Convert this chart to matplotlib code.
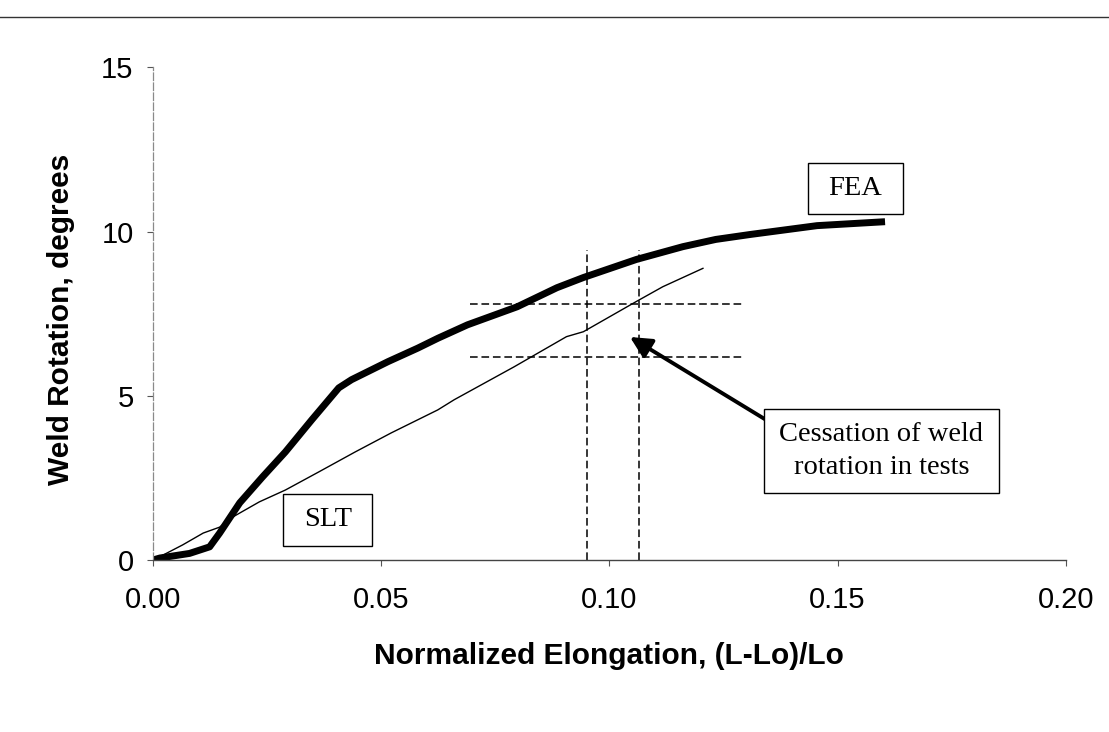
import matplotlib
matplotlib.use("Agg")
import matplotlib.pyplot as plt
from matplotlib.lines import Line2D
from matplotlib.path import Path

# FEA curve (thick)
fea_x = [0.0, 0.0015, 0.008, 0.0124, 0.0146, 0.019, 0.024, 0.029, 0.0348, 0.0407,
         0.0435, 0.0515, 0.058, 0.0624, 0.0689, 0.0798, 0.0885, 0.0943, 0.1059,
         0.1161, 0.1233, 0.1308, 0.1455, 0.1604]
fea_y = [0.0, 0.06, 0.2, 0.4, 0.82, 1.74, 2.53, 3.29, 4.27, 5.24,
         5.49, 6.04, 6.45, 6.75, 7.16, 7.71, 8.29, 8.6, 9.15,
         9.54, 9.76, 9.91, 10.18, 10.3]

# SLT test curve (thin)
slt_x = [0.0, 0.0015, 0.0065, 0.011, 0.0146, 0.0175, 0.019, 0.0233, 0.029, 0.0363,
         0.0443, 0.0522, 0.0624, 0.066, 0.0791, 0.0906, 0.0943, 0.1059, 0.1117, 0.1205]
slt_y = [0.0, 0.1, 0.46, 0.82, 1.0, 1.31, 1.43, 1.77, 2.13, 2.68,
         3.29, 3.87, 4.57, 4.88, 5.88, 6.8, 6.95, 7.87, 8.32, 8.88]

# dashed guide lines marking cessation of weld rotation
vline_x = [0.095, 0.1065]
vline_top = 9.43
hline_y = [6.19, 7.79]
hline_span = [0.0694, 0.1292]

# arrow from the note box to the cessation point
arrow_tip = (0.1045, 6.79)
arrow_tail = (0.1344, 4.26)

x_ticks = [0.00, 0.05, 0.10, 0.15, 0.20]
y_ticks = [0, 5, 10, 15]


def rect_box(padx, pady):
    # square box with separate horizontal / vertical padding
    def style(x0, y0, width, height, mutation_size):
        px = padx * mutation_size
        py = pady * mutation_size
        verts = [(x0 - px, y0 - py), (x0 + width + px, y0 - py),
                 (x0 + width + px, y0 + height + py), (x0 - px, y0 + height + py),
                 (x0 - px, y0 - py)]
        return Path(verts, closed=True)
    return style


fig = plt.figure(figsize=(11.09, 7.32), dpi=100)
ax = fig.add_axes([0.138, 0.235, 0.823, 0.673])

for xv in vline_x:
    ax.plot([xv, xv], [0, vline_top], color="black", lw=1.1, ls=(0, (5, 2.5)))
for yv in hline_y:
    ax.plot(hline_span, [yv, yv], color="black", lw=1.1, ls=(0, (5, 2.5)))

ax.plot(slt_x, slt_y, color="black", lw=1.0)
ax.plot(fea_x, fea_y, color="black", lw=5.0, solid_capstyle="butt")

serif = "Liberation Serif"
ax.text(0.1539, 11.30, "FEA", family=serif, fontsize=20.5, ha="center", va="center",
        bbox=dict(boxstyle=rect_box(0.72, 0.46), facecolor="white", edgecolor="black", lw=1.0))
ax.text(0.0383, 1.22, "SLT", family=serif, fontsize=20.5, ha="center", va="center",
        bbox=dict(boxstyle=rect_box(0.72, 0.46), facecolor="white", edgecolor="black", lw=1.0))
ax.annotate("", xy=arrow_tip, xytext=arrow_tail,
            arrowprops=dict(arrowstyle="-|>,head_length=0.4,head_width=0.2",
                            mutation_scale=32, lw=2.8, color="black",
                            shrinkA=0, shrinkB=0))
ax.text(0.1596, 3.32, "Cessation of weld\nrotation in tests", family=serif, fontsize=20.5,
        ha="center", va="center", linespacing=1.4,
        bbox=dict(boxstyle=rect_box(0.55, 0.46), facecolor="white", edgecolor="black", lw=1.0))

ax.set_xlim(0, 0.20)
ax.set_ylim(0, 15)
ax.set_xticks(x_ticks)
ax.set_xticklabels([f"{t:.2f}" for t in x_ticks])
ax.set_yticks(y_ticks)
ax.set_yticklabels([str(t) for t in y_ticks])
ax.tick_params(axis="both", direction="out", length=4, width=0.8, color="#555555",
               labelsize=21)
ax.tick_params(axis="x", pad=15)
ax.tick_params(axis="y", pad=10)
for lab in ax.get_xticklabels() + ax.get_yticklabels():
    lab.set_family("Liberation Sans")

for s in ["top", "right"]:
    ax.spines[s].set_visible(False)
ax.spines["bottom"].set_color("#444444")
ax.spines["bottom"].set_linewidth(1.0)
ax.spines["left"].set_color("#8a8a8a")
ax.spines["left"].set_linewidth(0.9)
ax.spines["left"].set_linestyle((0, (6, 2)))

ax.set_xlabel("Normalized Elongation, (L-Lo)/Lo", family="Liberation Sans",
              fontsize=21.5, fontweight="bold")
ax.set_ylabel("Weld Rotation, degrees", family="Liberation Sans",
              fontsize=21.5, fontweight="bold")
ax.xaxis.set_label_coords(0.5, -0.166)
ax.yaxis.set_label_coords(-0.0854, 0.489)

# scan border line across the top of the page
fig.add_artist(Line2D([0.0, 1.0], [0.977, 0.977], transform=fig.transFigure,
                      color="#333333", lw=1.0))

fig.savefig("out.png", dpi=100)
